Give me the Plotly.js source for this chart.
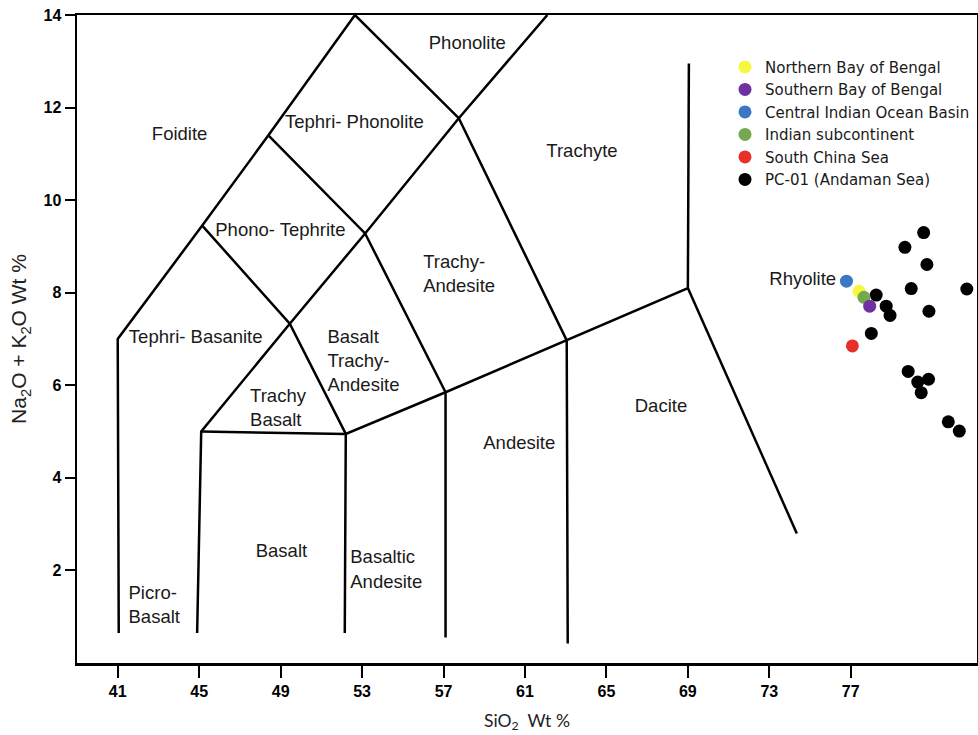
<!DOCTYPE html>
<html>
<head>
<meta charset="utf-8">
<script src="https://cdn.plot.ly/plotly-3.0.1.min.js"></script>
<style>html,body{margin:0;padding:0;background:#fff;}#chart{width:978px;height:735px;}</style>
</head>
<body>
<div id="chart"></div>
<script>
// ---- TAS field boundary segments (SiO2, Na2O+K2O) ----
const bndUltrabasic = [[41.05,0.65],[41,7.0],[45.15,9.45],[48.4,11.4],[52.65,14.0]];
const bndFoid2 = [[44.9,0.65],[45.1,5.0],[49.45,7.33],[53.15,9.28],[57.75,11.77],[62.1,14.0]];
const bndBasaltTop = [[45.1,5.0],[52.2,4.95],[57.1,5.85],[63.05,6.97],[69.0,8.1],[69.05,12.95]];
const bndDacite = [[69.0,8.1],[74.35,2.8]];
const bnd52 = [[52.15,0.65],[52.2,4.95],[49.45,7.33],[45.15,9.45]];
const bnd57 = [[57.1,0.55],[57.1,5.85],[53.15,9.28],[48.4,11.4]];
const bnd63 = [[63.1,0.42],[63.05,6.97],[57.75,11.77],[52.65,14.0]];
const boundaries = [bndUltrabasic, bndFoid2, bndBasaltTop, bndDacite, bnd52, bnd57, bnd63];

// ---- field names ----
const centerNames = ["Phonolite","Foidite","Tephri- Phonolite","Trachyte","Phono- Tephrite","Tephri- Basanite","Andesite","Dacite","Basalt","Rhyolite"];
const centerX = [58.17,44.04,52.62,63.8,48.99,44.83,60.72,67.68,49.04,74.64];
const centerY = [13.37,11.41,11.66,11.04,9.33,7.02,4.72,5.52,2.39,8.27];
const leftNames = ["Trachy-<br>Andesite","Basalt<br>Trachy-<br>Andesite","Trachy<br>Basalt","Basaltic<br>Andesite","Picro-<br>Basalt"];
const leftX = [56.0,51.3,47.5,52.42,41.53];
const leftY = [8.37,6.49,5.47,1.99,1.23];

// ---- samples ----
const nbobX = [77.41], nbobY = [8.03];
const sbobX = [77.93], sbobY = [7.71];
const ciobX = [76.79], ciobY = [8.25];
const indX = [77.65], indY = [7.90];
const scsX = [77.08], scsY = [6.85];
const pcX = [80.58,79.66,80.74,79.97,82.70,78.25,78.74,78.93,80.84,78.01,79.82,80.29,80.82,80.46,81.79,82.33];
const pcY = [9.30,8.98,8.61,8.09,8.08,7.95,7.71,7.51,7.60,7.12,6.30,6.07,6.13,5.84,5.21,5.01];

// ---- ticks ----
const xTicks = [41,45,49,53,57,61,65,69,73,77];
const yTicks = [2,4,6,8,10,12,14];

const traces = [];
boundaries.forEach(seg => {
  traces.push({x: seg.map(p=>p[0]), y: seg.map(p=>p[1]), mode:'lines', type:'scatter',
    line:{color:'#000', width:2.5}, showlegend:false, hoverinfo:'skip'});
});
const labelFont = {family:'"Liberation Sans", Arial, sans-serif', size:18.5, color:'#1a1a1a'};
traces.push({x:centerX, y:centerY, text:centerNames, mode:'text', type:'scatter',
  textposition:'middle center', textfont:labelFont, showlegend:false, hoverinfo:'skip', cliponaxis:false});
traces.push({x:leftX, y:leftY, text:leftNames, mode:'text', type:'scatter',
  textposition:'middle right', textfont:labelFont, showlegend:false, hoverinfo:'skip', cliponaxis:false});

function pts(name, xs, ys, color, rank){
  return {x:xs, y:ys, name:name, mode:'markers', type:'scatter', legendrank:rank,
    marker:{color:color, size:13, line:{width:0}}, cliponaxis:false};
}
traces.push(pts('PC-01 (Andaman Sea)', pcX, pcY, '#000000', 6));
traces.push(pts('Northern Bay of Bengal', nbobX, nbobY, '#f7f740', 1));
traces.push(pts('Indian subcontinent', indX, indY, '#74a94f', 4));
traces.push(pts('Southern Bay of Bengal', sbobX, sbobY, '#7030a0', 2));
traces.push(pts('Central Indian Ocean Basin', ciobX, ciobY, '#3a78c6', 3));
traces.push(pts('South China Sea', scsX, scsY, '#e8302a', 5));

const layout = {
  width:978, height:735,
  margin:{l:77, r:1, t:15, b:72},
  paper_bgcolor:'#fff', plot_bgcolor:'#fff',
  showlegend:true,
  legend:{x:0.72, y:0.945, xanchor:'left', yanchor:'top', bgcolor:'rgba(0,0,0,0)', tracegroupgap:0,
    font:{family:'"DejaVu Sans", sans-serif', size:15, color:'#1a1a1a'}, itemclick:false},
  xaxis:{range:[39,83.2], tickvals:xTicks, ticktext:xTicks.map(String),
    showgrid:false, zeroline:false, showline:true, linewidth:2.5, linecolor:'#000', mirror:true,
    ticks:'outside', ticklen:12, tickwidth:2, tickcolor:'#000',
    tickfont:{family:'"Liberation Sans Narrow", "Liberation Sans", Arial, sans-serif', size:16, color:'#000', weight:'bold'},
    title:{text:'SiO<sub>2</sub>  Wt %', standoff:16, font:{family:'Lato, sans-serif', size:17.5, color:'#222'}}},
  yaxis:{range:[0,14], tickvals:yTicks, ticktext:yTicks.map(String),
    showgrid:false, zeroline:false, showline:true, linewidth:2.5, linecolor:'#000', mirror:true,
    ticks:'outside', ticklen:10, tickwidth:2, tickcolor:'#000',
    tickfont:{family:'"Liberation Sans", Arial, sans-serif', size:16, color:'#000', weight:'bold'},
    title:{text:'Na<sub>2</sub>O + K<sub>2</sub>O Wt %', standoff:11, font:{family:'"Liberation Sans", Arial, sans-serif', size:21, color:'#222'}}}
};
Plotly.newPlot('chart', traces, layout, {displayModeBar:false, staticPlot:true});
</script>
</body>
</html>
